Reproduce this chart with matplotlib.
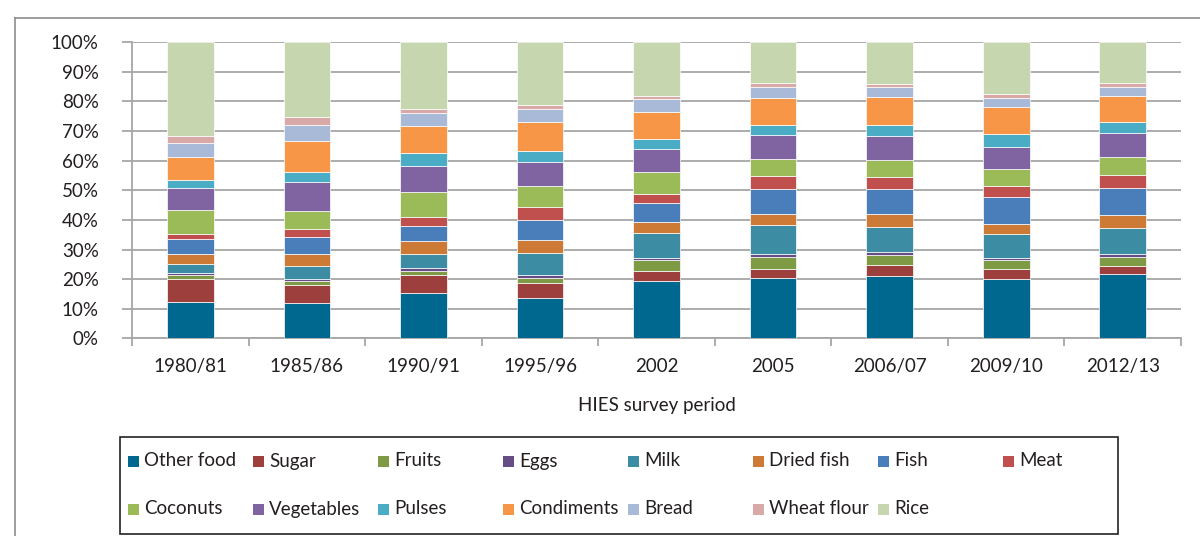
import numpy as np
import matplotlib
matplotlib.use("Agg")
import matplotlib.pyplot as plt
from matplotlib.lines import Line2D
from matplotlib.patches import Rectangle
from matplotlib.ticker import FuncFormatter, FixedLocator

plt.rcParams["font.family"] = ["Lato", "DejaVu Sans"]
plt.rcParams["font.size"] = 13

# ---- data: share of food expenditure (%) per HIES survey period ----
periods = ["1980/81", "1985/86", "1990/91", "1995/96", "2002",
           "2005", "2006/07", "2009/10", "2012/13"]

other_food  = [12.3, 11.8, 15.2, 13.6, 19.4, 20.3, 21.1, 19.9, 21.7]
sugar       = [7.7, 6.2, 6.1, 5.2, 3.3, 3.2, 3.6, 3.5, 2.7]
fruits      = [1.3, 1.4, 1.6, 1.7, 3.7, 4.0, 3.3, 3.0, 3.1]
eggs        = [0.7, 0.8, 0.9, 1.0, 0.7, 0.9, 1.1, 0.7, 0.9]
milk        = [3.2, 4.2, 4.8, 7.2, 8.5, 9.9, 8.6, 8.1, 9.0]
dried_fish  = [3.4, 4.2, 4.2, 4.6, 3.8, 3.8, 4.2, 3.5, 4.4]
fish        = [4.8, 5.7, 5.0, 6.8, 6.2, 8.5, 8.4, 9.0, 9.0]
meat        = [1.8, 2.5, 3.1, 4.3, 3.2, 4.2, 4.2, 3.8, 4.3]
coconuts    = [8.3, 6.1, 8.6, 7.0, 7.4, 5.8, 5.7, 5.7, 6.0]
vegetables  = [7.3, 9.9, 8.7, 8.2, 7.9, 8.1, 8.3, 7.4, 8.3]
pulses      = [2.6, 3.4, 4.5, 3.7, 3.2, 3.4, 3.5, 4.4, 3.6]
condiments  = [7.9, 10.6, 9.1, 9.9, 9.3, 9.1, 9.4, 9.0, 8.9]
bread       = [4.8, 5.3, 4.3, 4.4, 4.1, 3.7, 3.5, 3.2, 3.0]
wheat_flour = [2.3, 2.6, 1.4, 1.1, 1.2, 1.2, 0.9, 1.3, 1.4]
rice        = [31.6, 25.3, 22.5, 21.3, 18.1, 13.9, 14.2, 17.5, 13.7]

series = [
    ("Other food", other_food, "#00688f"),
    ("Sugar", sugar, "#9c3f3d"),
    ("Fruits", fruits, "#7e9a44"),
    ("Eggs", eggs, "#664d86"),
    ("Milk", milk, "#3c8da3"),
    ("Dried fish", dried_fish, "#cc7a36"),
    ("Fish", fish, "#4a7ebb"),
    ("Meat", meat, "#c0504d"),
    ("Coconuts", coconuts, "#9bbb59"),
    ("Vegetables", vegetables, "#8064a2"),
    ("Pulses", pulses, "#4bacc6"),
    ("Condiments", condiments, "#f79646"),
    ("Bread", bread, "#a9bad9"),
    ("Wheat flour", wheat_flour, "#d9a9a8"),
    ("Rice", rice, "#c6d6ae"),
]

GRID = "#a6a6a6"
INK = "#231f20"

fig = plt.figure(figsize=(12, 5.36), dpi=100)
ax = fig.add_axes([0.11, 0.3688, 0.8742, 0.5523])

x = np.arange(len(periods))
bottom = np.zeros(len(periods))
for name, vals, col in series:
    v = np.array(vals)
    ax.bar(x, v, bottom=bottom, width=0.4, color=col, edgecolor="white",
           linewidth=0.5, zorder=3)
    bottom += v

ax.set_xlim(-0.5, len(periods) - 0.5)
ax.set_ylim(0, 100)
ax.set_yticks(np.arange(0, 101, 10))
ax.yaxis.set_major_formatter(FuncFormatter(lambda v, p: f"{v:.0f}%"))
ax.yaxis.grid(True, color=GRID, linewidth=1.3, zorder=0)
ax.set_axisbelow(True)

# category boundaries as major ticks, labels on minor ticks
ax.xaxis.set_major_locator(FixedLocator(np.arange(-0.5, len(periods), 1.0)))
ax.xaxis.set_major_formatter(FuncFormatter(lambda v, p: ""))
ax.xaxis.set_minor_locator(FixedLocator(x))
ax.set_xticklabels(periods, minor=True)
ax.tick_params(axis="x", which="major", length=6, width=1.3, color=GRID, direction="out")
ax.tick_params(axis="x", which="minor", length=0, pad=14, labelsize=13.5, labelcolor=INK)
ax.tick_params(axis="y", length=7, width=1.3, color=GRID, pad=17, labelsize=13.5, labelcolor=INK)

for s in ("top", "right"):
    ax.spines[s].set_visible(False)
for s in ("left", "bottom"):
    ax.spines[s].set_color(GRID)
    ax.spines[s].set_linewidth(1.3)

ax.set_xlabel("HIES survey period", fontsize=13.5, color=INK, labelpad=16)

# ---- legend box (row-major, equal column widths) ----
W, H = 1200.0, 536.0
fig.add_artist(Rectangle((120 / W, (H - 534) / H), 998 / W, 97 / H,
                         transform=fig.transFigure, fill=False,
                         edgecolor="#222222", linewidth=1.2))
for i, (name, vals, col) in enumerate(series):
    r, c = divmod(i, 8)
    xs = 128 + c * 125
    yc = 461 + r * 48
    fig.add_artist(Rectangle((xs / W, (H - yc - 5.5) / H), 11 / W, 11 / H,
                             transform=fig.transFigure, facecolor=col,
                             edgecolor="none"))
    fig.text((xs + 16) / W, (H - yc) / H, name, fontsize=13.5, color=INK,
             va="center", ha="left")

# outer frame (left and top edges)
fig.add_artist(Line2D([15 / W, 15 / W], [0, (H - 18) / H], transform=fig.transFigure,
                      color="#8c8c8c", linewidth=1.2))
fig.add_artist(Line2D([15 / W, 1], [(H - 18) / H, (H - 18) / H], transform=fig.transFigure,
                      color="#8c8c8c", linewidth=1.2))

fig.savefig("out.png", dpi=100)
